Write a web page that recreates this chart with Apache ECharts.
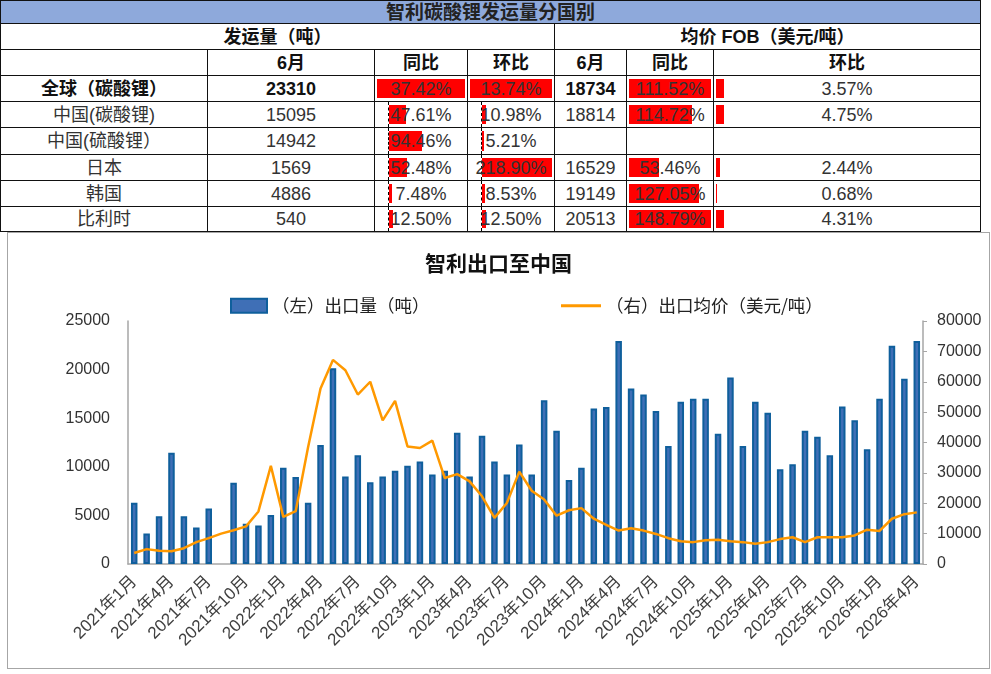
<!DOCTYPE html>
<html>
<head>
<meta charset="utf-8">
<script src="https://cdn.jsdelivr.net/npm/echarts@6/dist/echarts.min.js"></script>
<style>
  html, body { margin: 0; padding: 0; background: #fff; width: 991px; height: 674px; overflow: hidden; }
  #tbl { position: absolute; left: 0; top: 0; border-collapse: collapse; table-layout: fixed;
         font-family: "Liberation Sans", "Noto Sans CJK SC", sans-serif; font-size: 18px; color: #333; }
  #tbl td { border: 1px solid #111; padding: 0; text-align: center; white-space: nowrap;
            overflow: hidden; position: relative; line-height: 1; }
  #tbl tr.ttl td { background: #8EA9DB; font-weight: bold; font-size: 19px; color: #222; }
  #tbl .b { font-weight: bold; color: #111; }
  .bar { position: absolute; top: 3px; bottom: 3px; background: #ff0000; }
  .ax { position: absolute; top: 0; bottom: 0; border-left: 1px dashed #000; }
  .tx { position: relative; }
  #box { position: absolute; left: 7px; top: 232px; width: 983px; height: 437px;
         border: 1px solid #a6a6a6; box-sizing: border-box; }
  #chart { width: 981px; height: 435px; }
</style>
</head>
<body>
<table id="tbl"></table>
<div id="box"><div id="chart"></div></div>
<script>
// ---- table data (shipments by destination) ----
const rowNames = ['全球（碳酸锂）', '中国(碳酸锂)', '中国(硫酸锂）', '日本', '韩国', '比利时']
const volJune = [23310, 15095, 14942, 1569, 4886, 540]
const volYoy = [37.42, 47.61, 94.46, 52.48, 7.48, 12.50]
const volMom = [13.74, 10.98, 5.21, 218.90, 8.53, 12.50]
const fobJune = [18734, 18814, null, 16529, 19149, 20513]
const fobYoy = [111.52, 114.72, null, 53.46, 127.05, 148.79]
const fobMom = [3.57, 4.75, null, 2.44, 0.68, 4.31]

// ---- chart data (Chile exports to China) ----
const months = []
for (let y = 2021; y <= 2026; y++) {
  for (let m = 1; m <= 12; m++) {
    if (y === 2026 && m > 4) break
    months.push(y + '年' + m + '月')
  }
}
const exportVolume = [
  6300, 3150, 4900, 11450, 4900, 3750, 5700, null, 8350, 4150, 3950, 5050,
  9900, 8950, 6300, 12250, 20150, 9000, 11200, 8400, 9000, 9600, 10100, 10550,
  9200, 9600, 13500, 9000, 13200, 10550, 9200, 12300, 9200, 16850, 13700, 8650,
  9900, 16000, 16150, 22950, 18050, 17450, 15750, 12150, 16700, 17000, 17000, 13400,
  19200, 12150, 16700, 15550, 9750, 10250, 13700, 13100, 11200, 16200, 14800, 11800,
  17000, 22450, 19050, 22950
]
const exportPrice = [
  3600, 4900, 4400, 4200, 5200, 7200, 8500, 10000, 11100, 12400, 17300, 32300,
  15500, 17400, 38500, 57800, 67200, 63800, 55800, 60000, 47300, 53700, 38700, 38200,
  40600, 28300, 29600, 27200, 22300, 15200, 20100, 30400, 24100, 21200, 15900, 17700,
  18400, 14900, 12900, 11000, 11800, 11000, 9900, 8500, 7500, 7200, 7800, 8000,
  7500, 7200, 6700, 7200, 8200, 8800, 7200, 8800, 8800, 8800, 9400, 11300,
  10900, 14900, 16400, 17000
]

const volName = '（左）出口量（吨）'
const priceName = '（右）出口均价（美元/吨）'

const colW = [207, 167, 93, 87, 72, 87, 267]
const rowH = [23, 26, 26, 26, 26, 27, 26, 26, 25]

function pct(v) { return v.toFixed(2) + '%' }

// data-bar cell: length proportional to value / max of its range
function barCell(v, max, colIdx, axis) {
  const td = document.createElement('td')
  if (v == null) return td
  const w = colW[colIdx]
  const start = axis ? 14 : 2
  const len = (w - start - 3) * Math.min(v / max, 1)
  let html = ''
  if (axis) html += '<div class="ax" style="left:' + (start - 1) + 'px"></div>'
  html += '<div class="bar" style="left:' + start + 'px;width:' + len.toFixed(1) + 'px"></div>'
  html += '<span class="tx">' + pct(v) + '</span>'
  td.innerHTML = html
  return td
}

function buildTable() {
  const tbl = document.getElementById('tbl')
  const cg = document.createElement('colgroup')
  colW.forEach(w => { const c = document.createElement('col'); c.style.width = w + 'px'; cg.appendChild(c) })
  tbl.appendChild(cg)

  const addRow = (h, cls) => {
    const tr = document.createElement('tr')
    tr.style.height = h + 'px'
    if (cls) tr.className = cls
    tbl.appendChild(tr)
    return tr
  }
  const addTd = (tr, text, opts = {}) => {
    const td = document.createElement('td')
    td.textContent = text
    if (opts.span) td.colSpan = opts.span
    if (opts.bold) td.className = 'b'
    tr.appendChild(td)
    return td
  }

  let tr = addRow(rowH[0], 'ttl')
  addTd(tr, '智利碳酸锂发运量分国别', { span: 7 })
  tr = addRow(rowH[1])
  addTd(tr, '发运量（吨）', { span: 4, bold: true })
  addTd(tr, '均价 FOB（美元/吨）', { span: 3, bold: true })
  tr = addRow(rowH[2])
  ;['', '6月', '同比', '环比', '6月', '同比', '环比'].forEach(t => addTd(tr, t, { bold: true }))

  const volMax = Math.max(...volYoy.slice(1), ...volMom.slice(1))
  const fobRest = fobYoy.slice(1).concat(fobMom.slice(1)).filter(v => v != null)
  const fobMax = Math.max(...fobRest)

  rowNames.forEach((name, i) => {
    const r = addRow(rowH[3 + i])
    const bold = i === 0
    addTd(r, name, { bold })
    addTd(r, volJune[i], { bold })
    if (i === 0) {
      r.appendChild(barCell(volYoy[i], volYoy[i], 2, false))
      r.appendChild(barCell(volMom[i], volMom[i], 3, false))
      addTd(r, fobJune[i], { bold })
      const m0 = Math.max(fobYoy[i], fobMom[i])
      r.appendChild(barCell(fobYoy[i], m0, 5, false))
      r.appendChild(barCell(fobMom[i], m0, 6, false))
    } else {
      r.appendChild(barCell(volYoy[i], volMax, 2, true))
      r.appendChild(barCell(volMom[i], volMax, 3, true))
      addTd(r, fobJune[i] == null ? '' : fobJune[i])
      r.appendChild(barCell(fobYoy[i], fobMax, 5, false))
      r.appendChild(barCell(fobMom[i], fobMax, 6, false))
    }
  })
}
buildTable()

const cnFont = '"Noto Sans CJK SC", sans-serif'
const numFont = '"Liberation Sans", "Noto Sans CJK SC", sans-serif'
const plain = v => String(v)

const myChart = echarts.init(document.getElementById('chart'))
myChart.setOption({
  animation: false,
  title: {
    text: '智利出口至中国',
    left: 'center',
    top: 15,
    textStyle: { fontSize: 21, fontWeight: 'bold', color: '#111', fontFamily: cnFont }
  },
  legend: [
    {
      left: 217,
      top: 59,
      itemWidth: 36,
      itemHeight: 14,
      icon: 'rect',
      textStyle: { fontSize: 17.5, color: '#222', fontFamily: cnFont },
      data: [volName]
    },
    {
      left: 548,
      top: 59,
      itemWidth: 40,
      itemHeight: 3,
      icon: 'rect',
      textStyle: { fontSize: 17.5, color: '#222', fontFamily: cnFont },
      data: [priceName]
    }
  ],
  grid: { left: 120, right: 66, top: 88, bottom: 104 },
  xAxis: {
    type: 'category',
    data: months,
    axisLine: { lineStyle: { color: '#a6a6a6', width: 1.5 } },
    axisTick: { show: false },
    axisLabel: { interval: 2, rotate: 45, fontSize: 17, color: '#404040', margin: 15, fontFamily: numFont }
  },
  yAxis: [
    {
      type: 'value',
      min: 0,
      max: 25000,
      interval: 5000,
      splitLine: { show: false },
      axisLine: { show: true, lineStyle: { color: '#a6a6a6', width: 1.5 } },
      axisTick: { show: false },
      axisLabel: { fontSize: 16, color: '#333', margin: 18, fontFamily: numFont, formatter: plain }
    },
    {
      type: 'value',
      position: 'right',
      min: 0,
      max: 80000,
      interval: 10000,
      splitLine: { show: false },
      axisLine: { show: true, lineStyle: { color: '#a6a6a6', width: 1.5 } },
      axisTick: { show: true, length: 4, lineStyle: { color: '#a6a6a6' } },
      axisLabel: { fontSize: 16, color: '#333', margin: 14, fontFamily: numFont, formatter: plain }
    }
  ],
  series: [
    {
      name: volName,
      type: 'bar',
      barWidth: 6.5,
      data: exportVolume,
      itemStyle: { color: '#3F6FB6', borderColor: '#0F5F9C', borderWidth: 2 }
    },
    {
      name: priceName,
      type: 'line',
      yAxisIndex: 1,
      data: exportPrice,
      symbol: 'none',
      connectNulls: true,
      lineStyle: { color: '#FF9900', width: 2.5 },
      itemStyle: { color: '#FF9900' }
    }
  ]
})
</script>
</body>
</html>
